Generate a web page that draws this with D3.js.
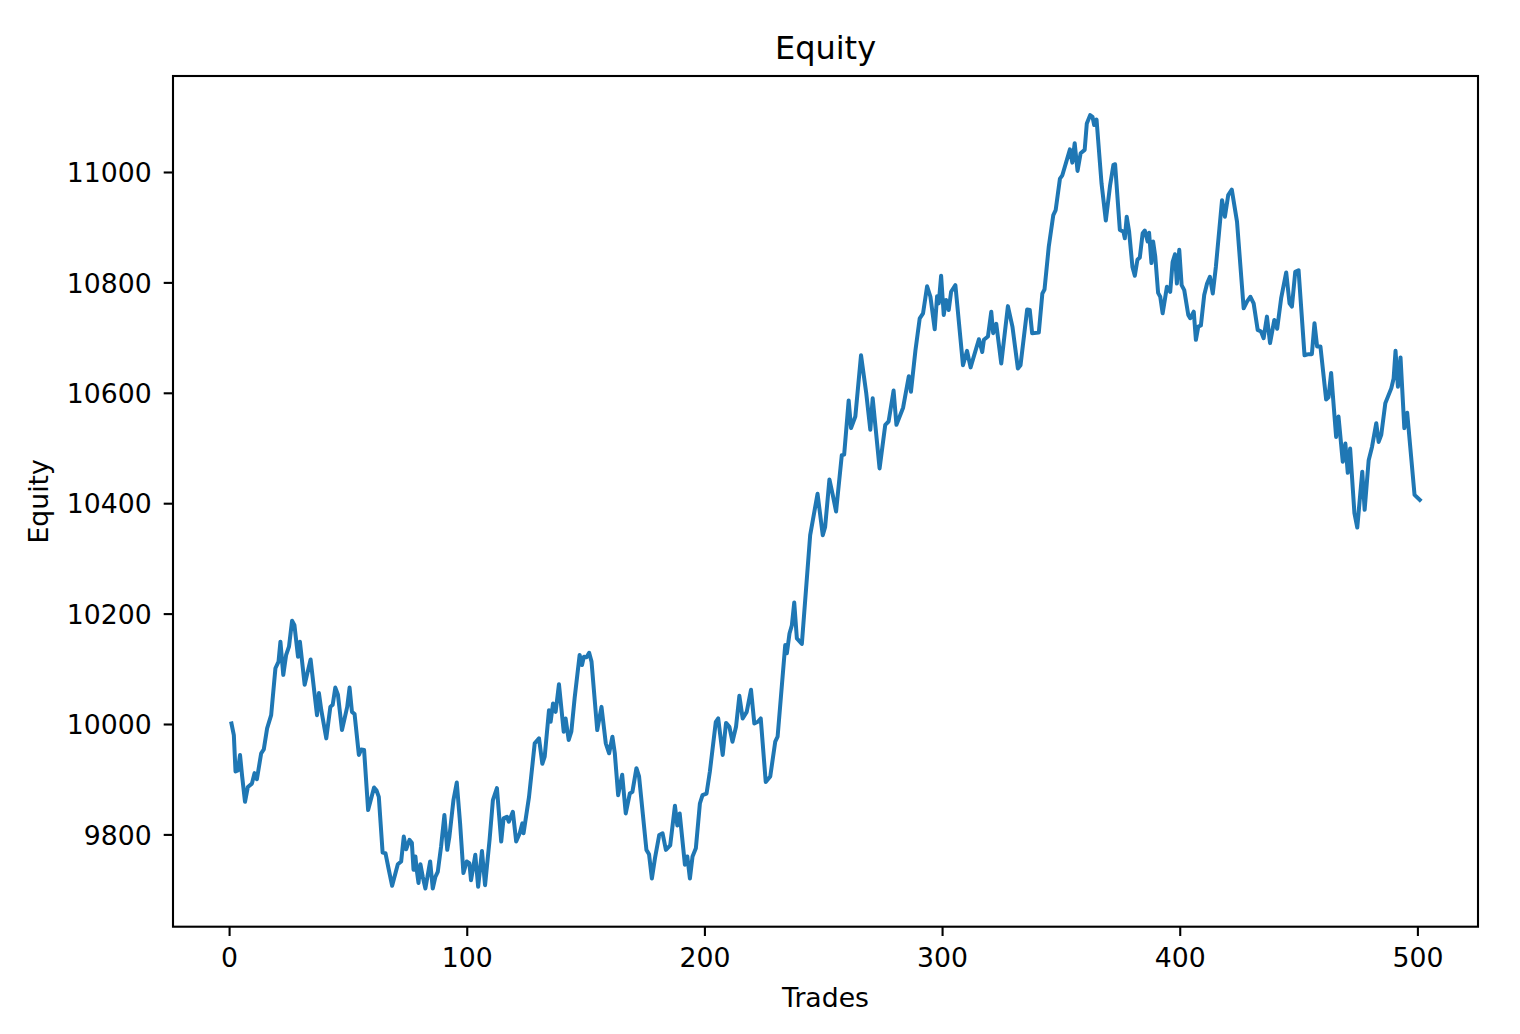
<!DOCTYPE html>
<meta charset="utf-8">
<head>
	<title>Equity</title>
	<script type="text/javascript" src="https://cdn.jsdelivr.net/npm/d3@7/dist/d3.min.js"></script>
	<style>
		body { margin: 0; background: #fff; }
		svg { display: block; font-family: "DejaVu Sans", sans-serif; }
	</style>
</head>

<body>
	<div id="chart"></div>

<script>
	// turning points
	var trades = [1, 2, 2.7, 3.7, 4.6, 5.5, 6.7, 7.9, 9.6, 10.7, 11.7, 13.5, 14.6, 16, 17.7, 19.5, 20.8, 21.6, 22.8, 24,
		25.2, 26.5, 27.5, 29, 29.8, 31.8, 34.3, 37, 37.8, 38.8, 40.9, 42.6, 43.6, 44.7, 45.8, 47.5, 49.7, 50.7, 51.7, 52.8,
		54.6, 55.6, 56.8, 58.5, 61, 62, 63, 64.6, 65.8, 67.2, 68.6, 71, 72.4, 73.5, 74.5, 75.9, 76.9, 77.6, 78.4, 79,
		79.7, 80.5, 81.5, 82.6, 84.6, 85.7, 86.8, 87.8, 89.2, 90.6, 91.8, 92.7, 94.4, 95.8, 97.2, 98.6, 100, 101.1, 101.8, 103.6,
		104.8, 106.4, 107.7, 109.6, 111, 112.7, 114.5, 115.5, 116.9, 117.7, 119.4, 120.8, 122.3, 123.4, 123.9, 126.2, 128.6, 130.4, 131.8, 132.8,
		134.6, 135.3, 136.3, 137.4, 138.8, 140.8, 141.6, 142.9, 144, 145.4, 147.5, 148.5, 149.3, 150.4, 151.5, 152.5, 154.9, 156.7, 158.5, 159.9,
		161.3, 162.3, 163.7, 165.4, 166.9, 168.6, 169.7, 171.4, 172.5, 175.6, 176.7, 177.9, 179.2, 181, 182.4, 183.8, 185.6, 187.6, 188.6, 189.6,
		191.8, 192.8, 193.9, 195, 196.4, 198.1, 199.2, 200.9, 202.3, 204.8, 205.8, 207.7, 209.1, 210.5, 211.8, 213.3, 214.7, 216.1, 217.8, 219.6,
		221, 222.5, 223.7, 225.8, 227.7, 229.8, 230.8, 234, 234.7, 235.8, 236.8, 237.8, 238.9, 241, 244.5, 247.6, 249.8, 250.8, 252.6, 254,
		255.4, 257.8, 258.8, 260.7, 261.7, 263.5, 265.9, 268.1, 269.8, 270.8, 273.7, 276.1, 277.5, 279.6, 280.8, 283.6, 286, 286.9, 288.8, 290.6,
		292, 293.7, 295.1, 296.9, 297.9, 298.6, 299.6, 300.7, 301.7, 302.8, 303.8, 305.6, 308.8, 310.5, 312, 315.5, 316.9, 317.6, 319.3, 320.7,
		321.5, 322.8, 324.9, 327.7, 329.6, 331.9, 333, 335.8, 336.9, 337.9, 340.7, 342.2, 343.1, 344.9, 346.8, 347.8, 349.6, 350.6, 353.8, 354.8,
		355.8, 357, 358.3, 360, 360.9, 362.3, 363.3, 364, 365, 367.1, 368.9, 370.7, 372.1, 372.8, 374.8, 376.3, 376.9, 377.7, 378.7, 380.1,
		381.1, 382.2, 383.2, 384.4, 385.3, 386.5, 387.1, 388.1, 388.8, 389.7, 390.9, 391.8, 392.8, 394.6, 396, 397, 398, 398.8, 399.8, 400.8,
		401.9, 403.6, 404.4, 405.9, 406.8, 407.8, 408.9, 410.3, 411.5, 412.7, 413.9, 415.2, 417.8, 419, 420.4, 421.9, 424.1, 426.9, 428.3, 429.7,
		431.1, 432.8, 434.2, 435.3, 436.7, 438, 439.8, 441, 442.7, 444.8, 446.2, 447.2, 448.6, 450, 452.5, 454.2, 455.6, 456.7, 457.8, 459.2,
		461.6, 462.6, 463.7, 465.8, 466.8, 468.6, 469.7, 470.7, 471.7, 473.5, 474.7, 476.8, 477.8, 479.5, 480.9, 482.7, 483.7, 484.8, 486.5, 489,
		490, 490.8, 491.8, 492.9, 494.5, 495.7, 498.8, 501];

	var equity = [10001, 9980, 9914, 9916, 9944, 9905, 9859, 9886, 9892, 9911, 9900, 9947, 9954, 9992, 10016, 10101, 10113, 10149, 10089, 10125,
		10140, 10187, 10179, 10122, 10149, 10071, 10117, 10016, 10056, 10025, 9974, 10031, 10035, 10066, 10053, 9989, 10031, 10066, 10022, 10018,
		9944, 9954, 9953, 9844, 9885, 9880, 9868, 9767, 9766, 9736, 9707, 9746, 9751, 9796, 9773, 9790, 9785, 9736, 9760, 9734,
		9712, 9746, 9723, 9702, 9751, 9702, 9723, 9732, 9778, 9835, 9772, 9796, 9862, 9894, 9820, 9730, 9751, 9748, 9717, 9763,
		9705, 9770, 9708, 9790, 9862, 9884, 9787, 9829, 9832, 9823, 9841, 9787, 9802, 9820, 9802, 9868, 9965, 9974, 9928, 9941,
		10025, 10004, 10037, 10022, 10072, 9986, 10010, 9971, 9986, 10047, 10125, 10107, 10122, 10121, 10129, 10113, 9989, 10031, 9965, 9947,
		9977, 9947, 9871, 9908, 9838, 9874, 9877, 9920, 9905, 9772, 9764, 9720, 9757, 9799, 9802, 9772, 9780, 9852, 9816, 9838,
		9745, 9760, 9720, 9760, 9775, 9856, 9871, 9874, 9914, 10004, 10010, 9944, 10002, 9995, 9968, 9995, 10051, 10010, 10022, 10062,
		10001, 10004, 10010, 9895, 9905, 9968, 9977, 10143, 10128, 10164, 10179, 10220, 10155, 10145, 10342, 10417, 10342, 10357, 10443, 10415,
		10385, 10487, 10488, 10586, 10536, 10557, 10668, 10599, 10533, 10590, 10463, 10542, 10548, 10604, 10542, 10573, 10630, 10602, 10677, 10735,
		10744, 10793, 10774, 10715, 10775, 10762, 10812, 10741, 10768, 10750, 10783, 10795, 10650, 10676, 10646, 10697, 10674, 10696, 10702, 10747,
		10708, 10725, 10653, 10757, 10720, 10644, 10650, 10751, 10750, 10708, 10709, 10780, 10787, 10865, 10922, 10931, 10988, 10994, 11041, 11017,
		11052, 11002, 11034, 11040, 11088, 11103, 11100, 11085, 11095, 10979, 10912, 10976, 11013, 11014, 10895, 10892, 10880, 10919, 10892, 10828,
		10812, 10841, 10845, 10889, 10894, 10874, 10890, 10835, 10874, 10847, 10781, 10774, 10744, 10792, 10783, 10837, 10851, 10798, 10859, 10795,
		10786, 10741, 10735, 10747, 10696, 10720, 10722, 10777, 10798, 10810, 10780, 10828, 10949, 10919, 10958, 10968, 10910, 10753, 10765, 10774,
		10762, 10714, 10711, 10699, 10738, 10690, 10732, 10716, 10772, 10818, 10762, 10756, 10819, 10822, 10668, 10670, 10670, 10726, 10684, 10684,
		10588, 10592, 10636, 10520, 10557, 10475, 10508, 10455, 10499, 10382, 10356, 10457, 10388, 10478, 10502, 10545, 10511, 10524, 10581, 10608,
		10626, 10676, 10611, 10664, 10536, 10564, 10415, 10406];

	var xTicks = [0, 100, 200, 300, 400, 500];
	var yTicks = [9800, 10000, 10200, 10400, 10600, 10800, 11000];

	var width = 1520, height = 1034;
	var plot = { left: 173, right: 1478, top: 76, bottom: 926.7 };

	var svg = d3.select("#chart").append("svg")
		.attr("width", width)
		.attr("height", height);

	svg.append("rect")
		.attr("width", width)
		.attr("height", height)
		.attr("fill", "#fff");

	var x = d3.scaleLinear().domain([-23.6, 525.5]).range([plot.left, plot.right]);
	var y = d3.scaleLinear().domain([9632.8, 11173.9]).range([plot.bottom, plot.top]);

	var pts = trades.map(function(t, i) { return [t, equity[i]]; });

	var line = d3.line()
		.x(function(d) { return x(d[0]); })
		.y(function(d) { return y(d[1]); });

	svg.append("path")
		.datum(pts)
		.attr("d", line)
		.attr("fill", "none")
		.attr("stroke", "#1f77b4")
		.attr("stroke-width", 4)
		.attr("stroke-linejoin", "round")
		.attr("stroke-linecap", "square");

	// axes
	var xAxis = svg.append("g")
		.attr("transform", "translate(0," + plot.bottom + ")")
		.call(d3.axisBottom(x).tickValues(xTicks).tickSize(9.3).tickPadding(10.5));

	var yAxis = svg.append("g")
		.attr("transform", "translate(" + plot.left + ",0)")
		.call(d3.axisLeft(y).tickValues(yTicks).tickSize(9.3).tickPadding(12).tickFormat(d3.format("d")));

	[xAxis, yAxis].forEach(function(g) {
		g.select(".domain").remove();
		g.selectAll(".tick line").attr("stroke", "#000").attr("stroke-width", 2.1);
		g.selectAll(".tick text")
			.attr("fill", "#000")
			.style("font-size", "26.7px")
			.style("font-family", "'DejaVu Sans', sans-serif");
	});
	xAxis.selectAll(".tick text").attr("dy", "0.78em");
	yAxis.selectAll(".tick text").attr("dy", "0.36em");

	// frame
	svg.append("rect")
		.attr("x", plot.left)
		.attr("y", plot.top)
		.attr("width", plot.right - plot.left)
		.attr("height", plot.bottom - plot.top)
		.attr("fill", "none")
		.attr("stroke", "#000")
		.attr("stroke-width", 2.1);

	// labels
	var cx = (plot.left + plot.right) / 2;

	svg.append("text")
		.attr("x", cx)
		.attr("y", 59)
		.attr("text-anchor", "middle")
		.style("font-size", "32px")
		.text("Equity");

	svg.append("text")
		.attr("x", cx)
		.attr("y", 1007)
		.attr("text-anchor", "middle")
		.style("font-size", "26.7px")
		.text("Trades");

	svg.append("text")
		.attr("transform", "translate(48," + (plot.top + plot.bottom) / 2 + ") rotate(-90)")
		.attr("text-anchor", "middle")
		.style("font-size", "26.7px")
		.text("Equity");
</script>
</body>
